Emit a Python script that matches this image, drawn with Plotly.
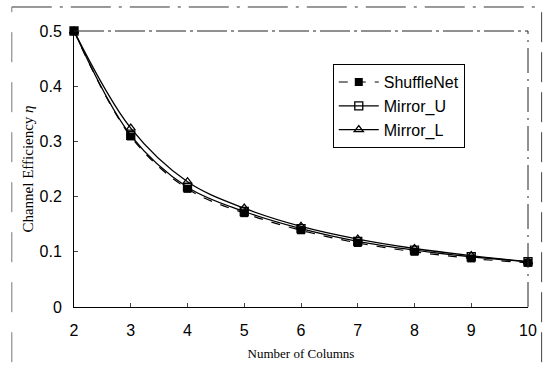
import plotly.graph_objects as go

columns = [2, 3, 4, 5, 6, 7, 8, 9, 10]
shufflenet = [0.5, 0.309, 0.214, 0.170, 0.139, 0.116, 0.100, 0.088, 0.080]
mirror_u = [0.5, 0.311, 0.217, 0.173, 0.142, 0.119, 0.103, 0.091, 0.082]
mirror_l = [0.5, 0.324, 0.227, 0.179, 0.146, 0.123, 0.106, 0.093, 0.082]
y_ticks = [0, 0.1, 0.2, 0.3, 0.4, 0.5]
y_tick_text = ["0", "0.1", "0.2", "0.3", "0.4", "0.5"]

fig = go.Figure()
fig.add_trace(go.Scatter(
    x=columns, y=shufflenet, name="ShuffleNet", mode="lines+markers",
    line=dict(color="black", width=1.2, dash="dash", shape="spline"),
    marker=dict(symbol="square", size=8, color="black"),
))
fig.add_trace(go.Scatter(
    x=columns, y=mirror_u, name="Mirror_U", mode="lines+markers",
    line=dict(color="black", width=1.3, shape="spline"),
    marker=dict(symbol="square-open", size=8, color="black", line=dict(width=1.3)),
))
fig.add_trace(go.Scatter(
    x=columns, y=mirror_l, name="Mirror_L", mode="lines+markers",
    line=dict(color="black", width=1.3, shape="spline"),
    marker=dict(symbol="triangle-up-open", size=8, color="black", line=dict(width=1.3)),
))

# dashed plot-area top & right borders
fig.add_shape(type="line", xref="paper", yref="paper", x0=0, x1=1, y0=1, y1=1,
              line=dict(color="#222", width=1, dash="30px,4px,3px,4px"))
fig.add_shape(type="line", xref="paper", yref="paper", x0=1, x1=1, y0=0, y1=1,
              line=dict(color="#222", width=1, dash="25px,6px,2px,6px"))
# outer chart frame (partial)
fig.add_shape(type="line", xref="paper", yref="paper", x0=-0.137, x1=1.03, y0=1.087, y1=1.087,
              line=dict(color="#333", width=1, dash="40px,8px,3px,8px"))
fig.add_shape(type="line", xref="paper", yref="paper", x0=-0.137, x1=-0.137, y0=-0.2, y1=1.087,
              line=dict(color="#777", width=1, dash="30px,20px"))
fig.add_shape(type="line", xref="paper", yref="paper", x0=1.03, x1=1.03, y0=-0.2, y1=1.087,
              line=dict(color="#444", width=1, dash="30px,10px"))

fig.update_layout(
    width=549, height=372,
    margin=dict(l=74, r=21, t=31, b=65),
    paper_bgcolor="white", plot_bgcolor="white",
    showlegend=True,
    legend=dict(
        x=0.57, y=0.88, xanchor="left", yanchor="top",
        bgcolor="white", bordercolor="black", borderwidth=1,
        font=dict(family="Liberation Sans, Arial", size=16, color="black"),
        itemwidth=40, tracegroupgap=0,
    ),
    xaxis=dict(
        range=[2, 10], tickvals=columns, ticks="inside", ticklen=4,
        showline=True, linecolor="black", linewidth=1, showgrid=False, zeroline=False,
        tickfont=dict(family="Liberation Sans, Arial", size=16, color="black"),
        ticklabelstandoff=9,
        title=dict(text="Number of Columns", standoff=10,
                   font=dict(family="Liberation Serif, Times New Roman", size=13, color="black")),
    ),
    yaxis=dict(
        range=[0, 0.5], tickvals=y_ticks, ticktext=y_tick_text, ticks="inside", ticklen=4,
        showline=True, linecolor="black", linewidth=1, showgrid=False, zeroline=False,
        tickfont=dict(family="Liberation Sans, Arial", size=16, color="black"),
        ticklabelstandoff=8,
        title=dict(text="Channel Efficiency <i>η</i>", standoff=2,
                   font=dict(family="Liberation Serif, Times New Roman", size=15, color="black")),
    ),
)
fig.update_traces(cliponaxis=False)

fig.write_html("out.html")
